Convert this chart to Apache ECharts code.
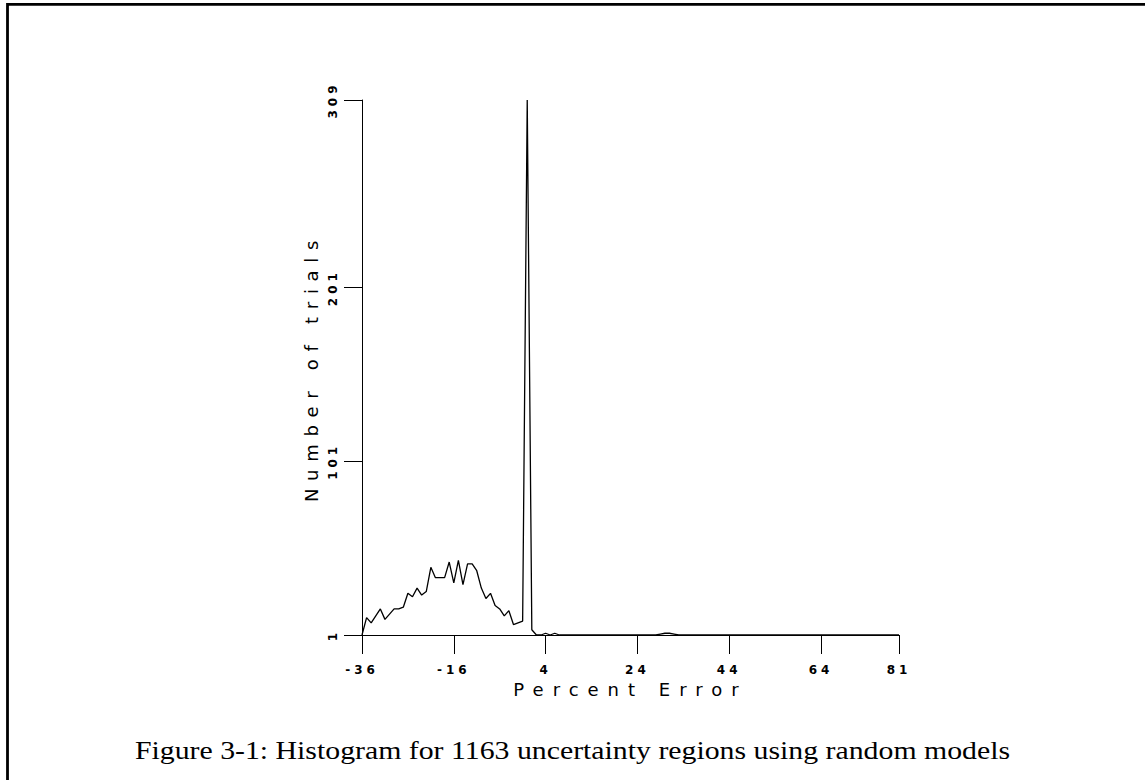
<!DOCTYPE html>
<html>
<head>
<meta charset="utf-8">
<script src="https://cdn.jsdelivr.net/npm/echarts@6/dist/echarts.min.js"></script>
<style>
html,body{margin:0;padding:0;background:#fff;}
#chart{width:1145px;height:780px;}
</style>
</head>
<body>
<div id="chart"></div>
<script>
// Data
const percentError = [-36,-35,-34,-33,-32,-31,-30,-29,-28,-27,-26,-25,-24,-23,-22,-21,-20,-19,-18,-17,-16,-15,-14,-13,-12,-11,-10,-9,-8,-7,-6,-5,-4,-3,-2,-1,0,1,2,3,4,5,6,7,8,28,29,30,31,32,33,81];
const trials = [1,11,8,12,16,10,13,16,16,17,25,23,28,24,26,40,34,34,34,43,31,44,30,42,42,38,28,22,25,18,16,12,15,7,8,9,309,4,1,1,2,1,2,1,1,1,1.5,2,2,1.5,1,1];
const xTicks = [-36,-16,4,24,44,64,81];
const yTicks = [1,101,201,309];
const xName = 'Percent Error';
const yName = 'Number of trials';
const caption = 'Figure 3-1: Histogram for 1163 uncertainty regions using random models';

const seriesData = percentError.map((x, i) => [x, trials[i]]);

// fit caption width
const mc = document.createElement('canvas').getContext('2d');
mc.font = '25px "Liberation Serif"';
const capScale = 875 / mc.measureText(caption).width;

const chart = echarts.init(document.getElementById('chart'), null, {renderer: 'svg'});
const tickLabelStyle = {fontFamily: 'DejaVu Sans', fontSize: 12, fontWeight: 'bold', color: '#000'};
const nameStyle = {fontFamily: 'DejaVu Sans', fontSize: 18, color: '#000'};

chart.setOption({
  animation: false,
  backgroundColor: '#fff',
  grid: {left: 362, right: 246, top: 100, bottom: 145, containLabel: false},
  xAxis: {
    type: 'value', min: -36, max: 81,
    name: xName, nameLocation: 'middle', nameGap: 44, nameTextStyle: nameStyle,
    axisLine: {show: true, onZero: false, lineStyle: {color: '#000', width: 1}},
    axisTick: {show: true, length: 19, customValues: xTicks, lineStyle: {color: '#000', width: 1}},
    axisLabel: Object.assign({customValues: xTicks, margin: 29}, tickLabelStyle),
    splitLine: {show: false}
  },
  yAxis: {
    type: 'value', min: 1, max: 309,
    name: yName, nameLocation: 'middle', nameGap: 42, nameTextStyle: nameStyle,
    axisLine: {show: true, onZero: false, lineStyle: {color: '#000', width: 1}},
    axisTick: {show: true, length: 18, customValues: yTicks, lineStyle: {color: '#000', width: 1}},
    axisLabel: Object.assign({customValues: yTicks, margin: 23, rotate: 90}, tickLabelStyle),
    splitLine: {show: false}
  },
  series: [{
    type: 'line', data: seriesData, showSymbol: false, symbol: 'none',
    lineStyle: {color: '#000', width: 1.3}, silent: true
  }],
  graphic: [
    {type: 'polyline', shape: {points: [[7.5, 780], [7.5, 4.3], [1145, 4.3]]},
     style: {stroke: '#000', lineWidth: 2.8, fill: null}},
    {type: 'text', x: 572.5, y: 750, scaleX: capScale, scaleY: 1,
     style: {text: caption, fontFamily: 'Liberation Serif', fontSize: 25, fill: '#000', align: 'center', verticalAlign: 'middle'}}
  ]
});

function applySpacing() {
  const texts = document.querySelectorAll('#chart svg text');
  const tickSet = new Set(xTicks.concat(yTicks).map(String));
  texts.forEach(t => {
    const s = t.textContent;
    if (s === xName) t.setAttribute('letter-spacing', '9px');
    else if (s === yName) t.setAttribute('letter-spacing', '7.7px');
    else if (tickSet.has(s)) t.setAttribute('letter-spacing', '4px');
  });
}
chart.on('finished', applySpacing);
setTimeout(applySpacing, 50);
</script>
</body>
</html>
